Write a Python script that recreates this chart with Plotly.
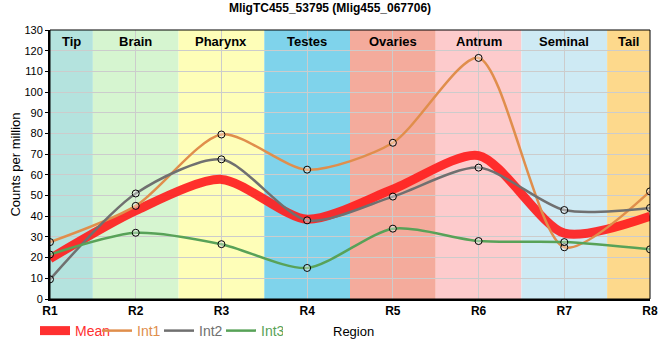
import plotly.graph_objects as go

regions = ["R1", "R2", "R3", "R4", "R5", "R6", "R7", "R8"]
xpos = [1, 2, 3, 4, 5, 6, 7, 8]
mean_vals = [19.5, 42.7, 57.8, 38.5, 53.0, 69.3, 31.8, 40.0]
int1_vals = [27.5, 45.0, 79.5, 62.5, 75.5, 116.5, 25.0, 52.0]
int2_vals = [9.5, 51.0, 67.5, 38.0, 49.5, 63.5, 43.0, 44.0]
int3_vals = [21.5, 32.0, 26.5, 15.0, 34.0, 28.0, 27.5, 24.0]

band_names = ["Tip", "Brain", "Pharynx", "Testes", "Ovaries", "Antrum", "Seminal", "Tail"]
band_starts = [1, 1.5, 2.5, 3.5, 4.5, 5.5, 6.5, 7.5]
band_ends = [1.5, 2.5, 3.5, 4.5, 5.5, 6.5, 7.5, 8]
band_colors = ["#b4e3de", "#d6f5d0", "#fefeb8", "#7fd3eb", "#f4ab9c", "#fdcbcc", "#ceeaf4", "#fdd98c"]

SM = 0.75

fig = go.Figure()

fig.add_trace(go.Scatter(x=xpos, y=mean_vals, mode="lines", name='<span style="color:#ff3030">Mean</span>',
                         line=dict(color="rgba(255,30,30,0.92)", width=9, shape="spline", smoothing=SM)))
series = [("Int1", int1_vals, "#e08e4c"), ("Int2", int2_vals, "#707070"), ("Int3", int3_vals, "#58a258")]
for name, vals, col in series:
    fig.add_trace(go.Scatter(x=xpos, y=vals, mode="lines",
                             name=f'<span style="color:{col}">{name}</span>', legendgroup=name,
                             line=dict(color=col, width=2.5, shape="spline", smoothing=SM)))
for name, vals, col in series:
    fig.add_trace(go.Scatter(x=xpos, y=vals, mode="markers", showlegend=False, legendgroup=name,
                             marker=dict(symbol="circle", size=7, color="rgba(255,255,255,0.35)",
                                         line=dict(color="black", width=1))))

shapes = []
for s, e, c in zip(band_starts, band_ends, band_colors):
    shapes.append(dict(type="rect", xref="x", yref="paper", x0=s, x1=e, y0=0, y1=1,
                       fillcolor=c, line=dict(width=0), layer="below"))
shapes.append(dict(type="rect", xref="paper", yref="paper", x0=0, x1=1, y0=0, y1=1,
                   line=dict(color="black", width=1), layer="above"))

annotations = []
for s, e, n in zip(band_starts, band_ends, band_names):
    annotations.append(dict(x=(s + e) / 2, y=1, xref="x", yref="paper", yanchor="top", yshift=-2,
                            text=f"<b>{n}</b>", showarrow=False, font=dict(size=13, color="black")))
annotations.append(dict(x=0.505, y=-0.119, xref="paper", yref="paper", yanchor="middle",
                        text="Region", showarrow=False, font=dict(size=13, color="black")))

fig.update_layout(
    width=660, height=360,
    margin=dict(l=50, r=10, t=30, b=61, autoexpand=False),
    paper_bgcolor="white", plot_bgcolor="white",
    font=dict(family="Liberation Sans, Arial, sans-serif", size=11, color="black"),
    title=dict(text="<b>MligTC455_53795 (Mlig455_067706)</b>", x=0.5, xanchor="center",
               y=0.99, yanchor="top", font=dict(size=12)),
    shapes=shapes, annotations=annotations,
    showlegend=True,
    legend=dict(orientation="h", x=-0.025, y=-0.119, xanchor="left", yanchor="middle",
                font=dict(size=14), entrywidth=17, entrywidthmode="pixels",
                tracegroupgap=0, bgcolor="rgba(0,0,0,0)"),
    xaxis=dict(range=[1, 8], tickmode="array", tickvals=xpos, ticktext=[f"<b>{r}</b>" for r in regions],
               showgrid=True, gridcolor="#cccccc", gridwidth=1, zeroline=False, automargin=False,
               showline=True, linecolor="black", linewidth=2, ticks="", tickfont=dict(size=12)),
    yaxis=dict(range=[0, 130], dtick=10, showgrid=True, gridcolor="#cccccc", gridwidth=1,
               zeroline=False, showline=True, linecolor="black", linewidth=2, automargin=False,
               ticks="outside", ticklen=3, tickcolor="black",
               title=dict(text="Counts per million", font=dict(size=13), standoff=1),
               tickfont=dict(size=11)),
)

fig.write_html("out.html", config={"displayModeBar": False},
               post_script="document.body.style.margin='0';")
